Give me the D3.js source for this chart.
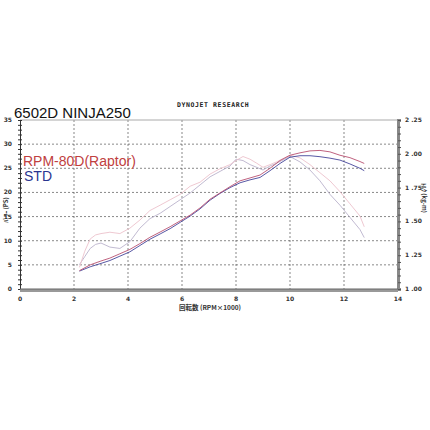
<!DOCTYPE html>
<html><head><meta charset="utf-8">
<script src="https://cdn.jsdelivr.net/npm/d3@7"></script>
<style>body{margin:0;background:#fff}svg{display:block}</style>
</head><body>
<svg id="c" width="430" height="430"></svg>
<script>
// ---- data ----
const title = "6502D NINJA250";
const seriesNames = ["RPM-80D(Raptor)", "STD"];
const xTicks = [0, 2, 4, 6, 8, 10, 12, 14];
const yLeftTicks = [0, 5, 10, 15, 20, 25, 30, 35];
const yRightTicks = [1.00, 1.25, 1.50, 1.75, 2.00, 2.25];

const powerRpm = [2.2,2.6,3.0,3.33,3.7,4.07,4.44,4.81,5.19,5.56,5.93,6.3,6.67,7.04,7.41,7.78,8.15,8.52,8.89,9.26,9.63,10.0,10.37,10.74,11.11,11.48,11.85,12.22,12.59,12.75];
const powerRaptor = [3.8,5.0,5.8,6.4,7.3,8.2,9.4,10.7,11.8,12.9,14.1,15.3,16.8,18.6,19.9,21.2,22.4,23.0,23.6,25.0,26.6,27.7,28.2,28.6,28.7,28.4,27.7,27.2,26.4,26.0];
const powerStd    = [3.7,4.6,5.3,5.9,6.8,7.7,9.0,10.3,11.4,12.5,13.8,15.1,16.6,18.4,19.8,21.0,22.0,22.6,23.1,24.5,26.0,27.3,27.6,27.6,27.4,27.1,26.7,25.9,25.0,24.5];

const torqueRpm = [2.2,2.4,2.6,2.8,3.0,3.33,3.7,4.07,4.44,4.81,5.19,5.56,5.93,6.3,6.67,7.04,7.41,7.78,8.0,8.26,8.52,8.77,9.0,9.26,9.5,9.8,10.0,10.37,10.74,11.11,11.48,11.85,12.22,12.59,12.75];
const torqueRaptor = [1.16,1.28,1.37,1.40,1.41,1.42,1.41,1.45,1.51,1.58,1.62,1.66,1.70,1.76,1.79,1.85,1.89,1.92,1.95,1.98,1.96,1.93,1.90,1.92,1.94,1.97,1.99,1.97,1.92,1.86,1.80,1.72,1.63,1.54,1.46];
const torqueStd    = [1.18,1.24,1.30,1.33,1.34,1.31,1.30,1.35,1.45,1.52,1.56,1.61,1.66,1.71,1.77,1.83,1.87,1.91,1.96,1.95,1.92,1.90,1.88,1.91,1.93,1.96,1.98,1.94,1.88,1.80,1.70,1.62,1.53,1.44,1.38];

// ---- drawing ----
const svg = d3.select("#c");
const x = d3.scaleLinear().domain([0, 14]).range([20, 398]);
const yL = d3.scaleLinear().domain([0, 35]).range([289, 120]);
const yR = d3.scaleLinear().domain([1, 2.25]).range([289, 120]);
const tickFont = "DejaVu Sans, sans-serif";

// grid
const grid = svg.append("g").attr("stroke", "#555").attr("stroke-width", 0.7).attr("stroke-dasharray", "2,2");
yLeftTicks.filter(v => v > 0 && v < 35).forEach(v => {
  grid.append("line").attr("x1", x(0)).attr("x2", x(14)).attr("y1", yL(v)).attr("y2", yL(v));
});
xTicks.filter(v => v > 0 && v < 14).forEach(v => {
  grid.append("line").attr("x1", x(v)).attr("x2", x(v)).attr("y1", yL(35)).attr("y2", yL(0));
});

// top border
svg.append("line").attr("x1", x(0)).attr("x2", x(14)).attr("y1", yL(35)).attr("y2", yL(35))
  .attr("stroke", "#aaa").attr("stroke-width", 1);

// left axis
const la = svg.append("g").attr("transform", `translate(${x(0)},0)`)
  .call(d3.axisLeft(yL).tickValues(d3.range(0, 36, 1)).tickSize(2).tickFormat(""));
la.select(".domain").attr("stroke", "#333");
la.selectAll(".tick line").attr("stroke", "#333").attr("x2", 2).attr("x1", -2);
svg.append("g").selectAll("text").data(yLeftTicks).join("text")
  .attr("x", 12).attr("y", d => yL(d) + 2).attr("text-anchor", "end")
  .attr("font-family", tickFont).attr("font-weight", "bold").attr("font-size", 6)
  .attr("fill", "#333").text(d => d);

// right axis
const ra = svg.append("g").attr("transform", `translate(${x(14)},0)`)
  .call(d3.axisRight(yR).tickValues(d3.range(1, 2.2501, 0.05)).tickSize(3).tickFormat(""));
ra.select(".domain").attr("stroke", "#888").attr("stroke-width", 3);
ra.selectAll(".tick line").attr("stroke", "#555");
svg.append("g").selectAll("text").data(yRightTicks).join("text")
  .attr("x", 405).attr("y", d => yR(d) + 2)
  .attr("font-family", tickFont).attr("font-weight", "bold").attr("font-size", 6)
  .attr("fill", "#333").text(d => d.toFixed(2).replace(".", " ."));

// bottom band
svg.append("rect").attr("x", x(0)).attr("y", yL(0)).attr("width", x(14) - x(0)).attr("height", 3).attr("fill", "#999");
svg.append("line").attr("x1", x(0)).attr("x2", x(14)).attr("y1", yL(0)).attr("y2", yL(0)).attr("stroke", "#666");

// bottom labels
svg.append("g").selectAll("text").data(xTicks).join("text")
  .attr("x", d => x(d)).attr("y", 301).attr("text-anchor", "middle")
  .attr("font-family", tickFont).attr("font-weight", "bold").attr("font-size", 6)
  .attr("fill", "#333").text(d => d);

// axis titles
svg.append("text").attr("x", 210).attr("y", 310).attr("text-anchor", "middle")
  .attr("font-family", "Noto Sans CJK JP, sans-serif").attr("font-weight", "bold").attr("font-size", 6.5)
  .attr("fill", "#333").text("回転数 (RPM×1000)");
svg.append("text").attr("transform", "translate(8,210) rotate(-90)").attr("text-anchor", "middle")
  .attr("font-family", "Noto Sans CJK JP, sans-serif").attr("font-weight", "bold").attr("font-size", 6)
  .attr("fill", "#333").text("ﾊﾟﾜｰ (PS)");
svg.append("text").attr("transform", "translate(422,198) rotate(90)").attr("text-anchor", "middle")
  .attr("font-family", "Noto Sans CJK JP, sans-serif").attr("font-weight", "bold").attr("font-size", 6)
  .attr("fill", "#333").text("ﾄﾙｸ (kg-m)");

// header
svg.append("text").attr("x", 14).attr("y", 118).attr("font-family", "Liberation Sans, Arial, sans-serif")
  .attr("font-size", 15).attr("fill", "#111").text(title);
svg.append("text").attr("x", 177).attr("y", 107).attr("font-family", "DejaVu Sans Mono, monospace")
  .attr("font-weight", "bold").attr("font-size", 6.5).attr("letter-spacing", 0.6)
  .attr("fill", "#222").text("DYNOJET  RESEARCH");

// curves
const lineP = d3.line().x((d) => x(d[0])).y(d => yL(d[1]));
const lineT = d3.line().x((d) => x(d[0])).y(d => yR(d[1]));
const curves = [
  {d: d3.zip(torqueRpm, torqueStd), f: lineT, c: "#bab2cc"},
  {d: d3.zip(torqueRpm, torqueRaptor), f: lineT, c: "#ecc2cc"},
  {d: d3.zip(powerRpm, powerStd), f: lineP, c: "#45459a"},
  {d: d3.zip(powerRpm, powerRaptor), f: lineP, c: "#b85070"}
];
svg.append("g").selectAll("path").data(curves).join("path")
  .attr("d", d => d.f(d.d)).attr("fill", "none").attr("stroke", d => d.c).attr("stroke-width", 0.9);

// legend
svg.append("text").attr("x", 23).attr("y", 166).attr("font-family", "Liberation Sans, Arial, sans-serif")
  .attr("font-size", 14).attr("fill", "#c04040").text(seriesNames[0]);
svg.append("text").attr("x", 24).attr("y", 181).attr("font-family", "Liberation Sans, Arial, sans-serif")
  .attr("font-size", 14).attr("fill", "#2a3590").text(seriesNames[1]);
</script>
</body></html>
